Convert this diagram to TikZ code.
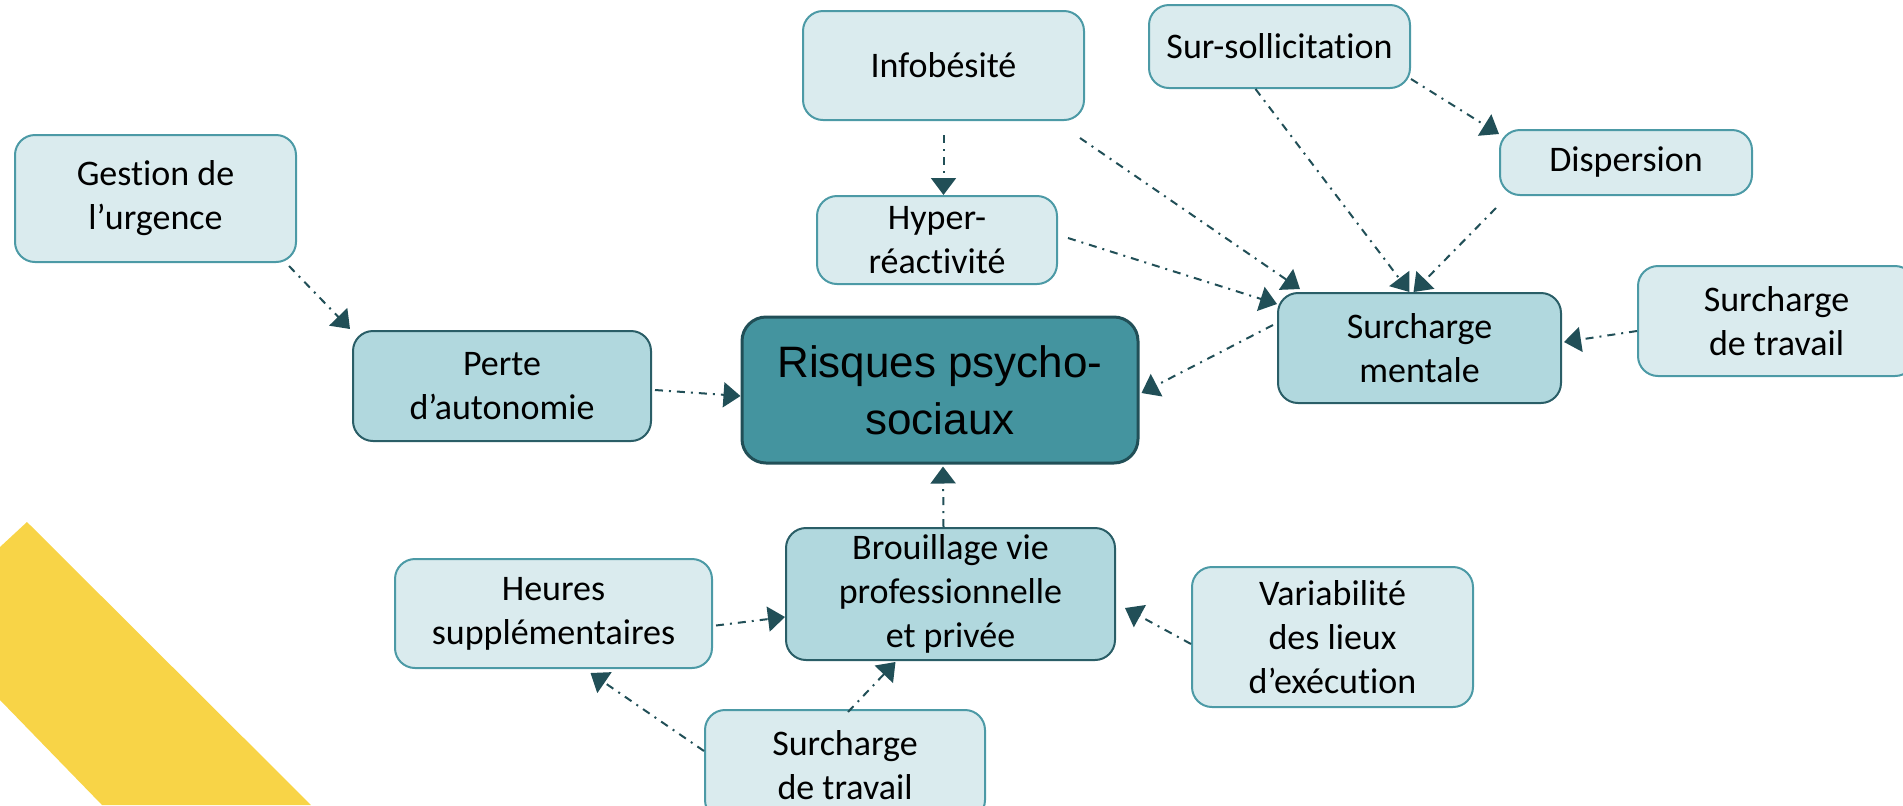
\documentclass[tikz,border=0pt]{standalone}
\usepackage{fontspec}
\setmainfont[Ligatures={TeX,NoCommon}]{Carlito}
\newfontfamily\arialfont{Liberation Sans}
\usepackage{xcolor}
\usepackage{tikz}
\usetikzlibrary{arrows.meta,calc}
\definecolor{rpslight}{HTML}{DAEBEE}
\definecolor{rpsmid}{HTML}{B1D8DE}
\definecolor{rpsmain}{HTML}{44949F}
\definecolor{rpsline}{HTML}{4C9AA6}
\definecolor{rpsdark}{HTML}{214F57}
\definecolor{rpsyellow}{HTML}{F8D447}
\tikzset{
  cause/.style={draw=rpsline, fill=rpslight, line width=1pt, rounded corners=10pt,
                align=center, inner sep=0pt, font=\fontsize{18}{22}\selectfont},
  effect/.style={cause, draw=rpsdark!80!rpsline, fill=rpsmid},
  core/.style={draw=rpsdark, fill=rpsmain, line width=1.5pt, rounded corners=12pt,
               align=center, inner sep=0pt, font=\arialfont\fontsize{22}{28.5}\selectfont},
  causearrow/.style={-{Triangle[length=8.5pt, width=12.5pt]}, rpsdark, line width=1pt,
                     dash pattern=on 4pt off 3pt on 1pt off 3pt}
}

\begin{document}
\begin{tikzpicture}[x=0.5pt, y=-0.5pt]
\useasboundingbox (0,0) rectangle (1903,805);
\clip (0,0) rectangle (1903,805);
\fill[rpsyellow] (0,547) -- (27,522) -- (311,805) -- (102,805) -- (0,700) -- cycle;

\node[core, minimum width=198pt, minimum height=73pt] (risques) at (940,390) {Risques psycho-\\sociaux};
\node[cause, minimum width=140.5pt, minimum height=63.5pt] (urgence) at (155.5,198.5) {Gestion de\\l’urgence};
\node[effect, minimum width=149pt, minimum height=55pt] (perte) at (502,386) {Perte\\d’autonomie};
\node[cause, minimum width=140.5pt, minimum height=54.5pt] (infobesite) at (943.5,65.5) {Infobésité};
\node[cause, minimum width=120pt, minimum height=44pt] (hyper) at (937,240) {Hyper-\\réactivité};
\node[cause, minimum width=130.5pt, minimum height=41.5pt] (sursoll) at (1279.5,46.5) {Sur-sollicitation};
\node[cause, minimum width=126pt, minimum height=32.5pt] (dispersion) at (1626,162.5) {Dispersion};
\node[effect, minimum width=141.5pt, minimum height=55pt] (mentale) at (1419.5,348) {Surcharge\\mentale};
\node[cause, minimum width=138.5pt, minimum height=55pt] (travailR) at (1776.5,321) {Surcharge\\de travail};
\node[effect, minimum width=164.5pt, minimum height=66pt] (brouillage) at (950.5,594) {Brouillage vie\\professionnelle\\et privée};
\node[cause, minimum width=140.5pt, minimum height=70pt] (variabilite) at (1332.5,637) {Variabilité\\des lieux\\d’exécution};
\node[cause, minimum width=158.5pt, minimum height=54.5pt] (heures) at (553.5,613.5) {Heures\\supplémentaires};
\node[cause, minimum width=140pt, minimum height=55pt] (travailB) at (845,765) {Surcharge\\de travail};

\draw[causearrow] ($(urgence.south east)+(-8,3)$) -- ($(perte.north west)+(-2,-1)$);
\draw[causearrow] ($(perte.east)+(3,4)$) -- ($(risques.west)+(0,6)$);
\draw[causearrow] ($(infobesite.south)+(0,14)$) -- (infobesite.south |- hyper.north);
\draw[causearrow] ($(infobesite.south east)+(-5,17)$) -- ($(mentale.north west)+(23,-3)$);
\draw[causearrow] ($(hyper.east)+(10,-2)$) -- ($(mentale.north west)+(0,12)$);
\draw[causearrow] ($(sursoll.south)+(-24,0)$) -- ($(mentale.north)+(-10,0)$);
\draw[causearrow] ($(sursoll.south east)+(0,-10)$) -- ($(dispersion.north west)+(0,5)$);
\draw[causearrow] ($(dispersion.south west)+(-3,12)$) -- ($(mentale.north)+(-6,0)$);
\draw[causearrow] ($(mentale.west)+(-4,-23)$) -- ($(risques.east)+(2,3)$);
\draw[causearrow] ($(travailR.west)+(0,10)$) -- ($(mentale.east)+(2,-6)$);
\draw[causearrow] ($(brouillage.north)+(-7,0)$) -- ($(risques.south)+(3,2)$);
\draw[causearrow] ($(heures.east)+(3,12)$) -- ($(brouillage.west)+(0,23)$);
\draw[causearrow] ($(travailB.north west)+(0,42)$) -- ($(heures.south)+(37,4)$);
\draw[causearrow] ($(travailB.north)+(3,3)$) -- ($(brouillage.south)+(-55,1)$);
\draw[causearrow] ($(variabilite.west)+(0,7)$) -- ($(brouillage.east)+(9,14)$);
\end{tikzpicture}
\end{document}
